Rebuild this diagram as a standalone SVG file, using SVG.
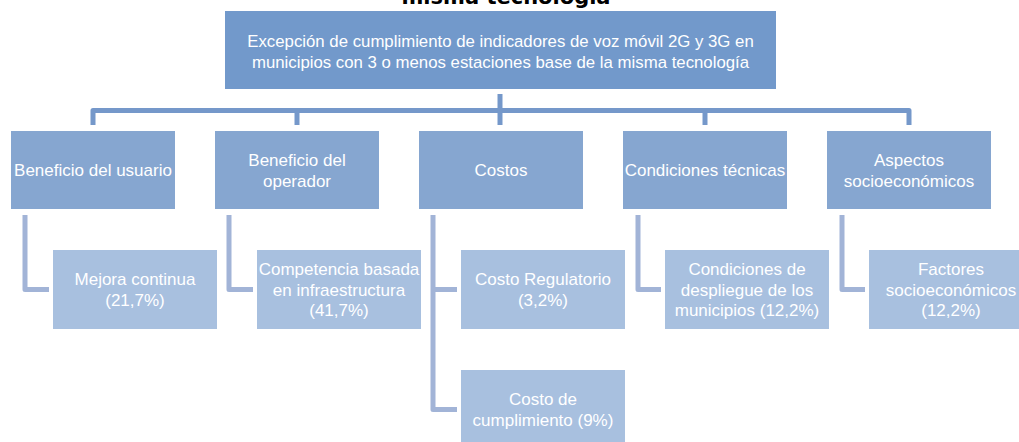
<svg xmlns="http://www.w3.org/2000/svg" width="1019" height="442" viewBox="0 0 1019 442">
  <style>
    .root { fill: #7299CB; }
    .l1 { fill: #86A6D0; }
    .l2 { fill: #A8C0DF; }
    .t { font-family: "Liberation Sans", Arial, sans-serif; fill: #FFFFFF; text-anchor: middle; }
    .tr { font-size: 16.8px; }
    .t1 { font-size: 17px; }
    .t2 { font-size: 17px; }
    .main { fill: none; stroke: #7598CA; stroke-width: 5; stroke-linejoin: round; }
    .elb { fill: none; stroke: #A2B4D7; stroke-width: 5; stroke-linejoin: round; }
    .title { font-family: "DejaVu Sans", Verdana, sans-serif; font-weight: bold; font-size: 21px; fill: #000000; text-anchor: middle; }
  </style>

  <text class="title" x="506" y="4">misma tecnología</text>

  <g id="connectors">
    <path class="main" d="M93,125 V110.5 H909 V125"/>
    <path class="main" d="M297,110.5 V125"/>
    <path class="main" d="M705,110.5 V125"/>
    <path class="main" d="M500,94 V125"/>
    <path class="elb" d="M25,215 V289.5 H49"/>
    <path class="elb" d="M229,215 V289.5 H253"/>
    <path class="elb" d="M433,215 V409.5 H457"/>
    <path class="elb" d="M433,289.5 H457"/>
    <path class="elb" d="M638,215 V289.5 H661"/>
    <path class="elb" d="M842,215 V289.5 H865"/>
  </g>

  <g id="root">
    <rect class="root" x="225" y="11" width="551" height="78"/>
    <text class="t tr" x="500.5" y="47">Excepción de cumplimiento de indicadores de voz móvil 2G y 3G en</text>
    <text class="t tr" x="500.5" y="68">municipios con 3 o menos estaciones base de la misma tecnología</text>
  </g>

  <g id="beneficio-usuario">
    <rect class="l1" x="11" y="131" width="164" height="78"/>
    <text class="t t1" x="93" y="176">Beneficio del usuario</text>
  </g>
  <g id="beneficio-operador">
    <rect class="l1" x="215" y="131" width="164" height="78"/>
    <text class="t t1" x="297" y="166">Beneficio del</text>
    <text class="t t1" x="297" y="186.5">operador</text>
  </g>
  <g id="costos">
    <rect class="l1" x="419" y="131" width="164" height="78"/>
    <text class="t t1" x="501" y="176">Costos</text>
  </g>
  <g id="condiciones-tecnicas">
    <rect class="l1" x="623" y="131" width="164" height="78"/>
    <text class="t t1" x="705" y="176">Condiciones técnicas</text>
  </g>
  <g id="aspectos-socioeconomicos">
    <rect class="l1" x="827" y="131" width="164" height="78"/>
    <text class="t t1" x="909" y="166">Aspectos</text>
    <text class="t t1" x="909" y="186.5">socioeconómicos</text>
  </g>

  <g id="mejora-continua">
    <rect class="l2" x="53" y="250" width="164" height="79"/>
    <text class="t t2" x="135" y="285">Mejora continua</text>
    <text class="t t2" x="135" y="306">(21,7%)</text>
  </g>
  <g id="competencia">
    <rect class="l2" x="257" y="250" width="164" height="79"/>
    <text class="t t2" x="339" y="275">Competencia basada</text>
    <text class="t t2" x="339" y="295.5">en infraestructura</text>
    <text class="t t2" x="339" y="316">(41,7%)</text>
  </g>
  <g id="costo-regulatorio">
    <rect class="l2" x="461" y="250" width="164" height="79"/>
    <text class="t t2" x="543" y="285">Costo Regulatorio</text>
    <text class="t t2" x="543" y="306">(3,2%)</text>
  </g>
  <g id="costo-cumplimiento">
    <rect class="l2" x="461" y="370" width="164" height="79"/>
    <text class="t t2" x="543" y="405">Costo de</text>
    <text class="t t2" x="543" y="426">cumplimiento (9%)</text>
  </g>
  <g id="condiciones-despliegue">
    <rect class="l2" x="665" y="250" width="164" height="79"/>
    <text class="t t2" x="747" y="275">Condiciones de</text>
    <text class="t t2" x="747" y="295.5">despliegue de los</text>
    <text class="t t2" x="747" y="316">municipios (12,2%)</text>
  </g>
  <g id="factores-socioeconomicos">
    <rect class="l2" x="869" y="250" width="164" height="79"/>
    <text class="t t2" x="951" y="275">Factores</text>
    <text class="t t2" x="951" y="295.5">socioeconómicos</text>
    <text class="t t2" x="951" y="316">(12,2%)</text>
  </g>
</svg>
